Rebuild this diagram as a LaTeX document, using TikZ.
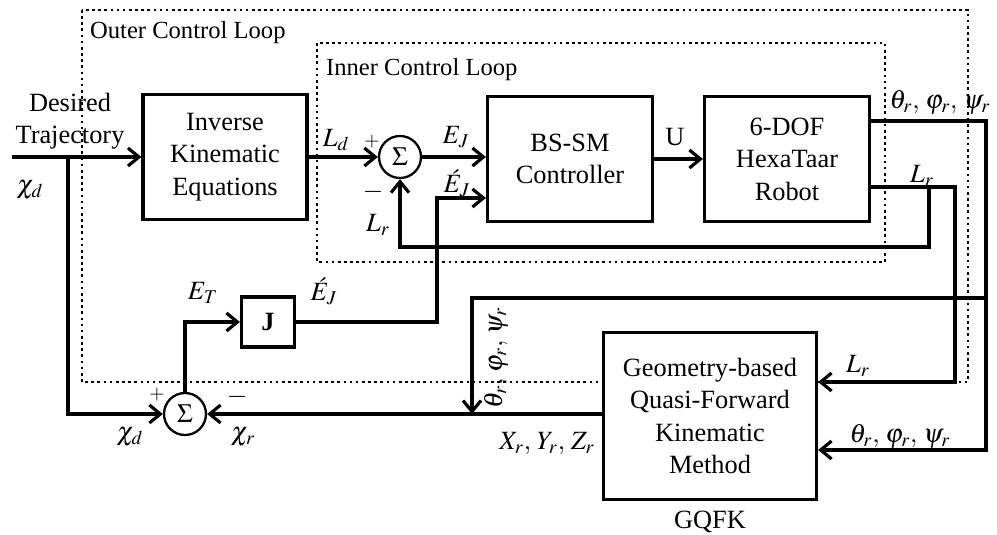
\documentclass[tikz,border=0pt]{standalone}
\usepackage{amsmath}
\usepackage{mathptmx}
\usepackage{fontspec}
\setmainfont{Liberation Serif}
\usetikzlibrary{arrows.meta}

\begin{document}
\begin{tikzpicture}[x=0.2mm,y=-0.2mm,font=\fontsize{15}{18.5}\selectfont,
  box/.style={draw,line width=1.8pt,fill=white,align=center,inner sep=2pt},
  sumnode/.style={draw,circle,line width=1.3pt,fill=white,minimum size=8.4mm,inner sep=0pt},
  loop/.style={draw,dotted,line width=1.5pt},
  wire/.style={line width=2pt},
  arr/.style={wire,-{Straight Barb[length=2.2mm,width=3.6mm,line width=1.8pt]}},
  lbl/.style={inner sep=1pt}]
  \useasboundingbox (0,0) rectangle (997,535);
  % dotted control loops
  \draw[loop] (82,10) rectangle (968,382);
  \draw[loop] (317,43) rectangle (885,262);
  \node[lbl,anchor=west,font=\fontsize{14}{17}\selectfont] (outerlbl) at (88,33) {Outer Control Loop};
  \node[lbl,anchor=west,font=\fontsize{14}{17}\selectfont] (innerlbl) at (324,70) {Inner Control Loop};
  % blocks
  \node[box,minimum width=32.8mm,minimum height=25mm] (ik) at (225,157) {Inverse\\Kinematic\\Equations};
  \node[box,minimum width=33mm,minimum height=25mm] (bssm) at (570,159) {BS-SM\\Controller};
  \node[box,minimum width=33mm,minimum height=25mm] (robot) at (787,159) {6-DOF\\HexaTaar\\Robot};
  \node[box,minimum width=42.6mm,minimum height=33.4mm] (gqfk) at (710,416) {Geometry-based\\Quasi-Forward\\Kinematic\\Method};
  \node[box,minimum width=10.6mm,minimum height=10mm] (jac) at (268,322) {\textbf{J}};
  \node[sumnode] (sum1) at (400,157) {$\Sigma$};
  \node[sumnode] (sum2) at (185,414) {$\Sigma$};
  % helper points
  \coordinate (start) at (12,157);
  \coordinate (split) at (68,157);
  \coordinate (ejturn) at (437,198);
  \coordinate (thout) at (robot.east |- 0,121);
  \coordinate (thcorner) at (986,121);
  \coordinate (thsplit) at (986,298);
  \coordinate (thdrop) at (472,414);
  \coordinate (lrout) at (robot.east |- 0,187);
  \coordinate (lrcorner) at (955,187);
  \coordinate (lrsplit) at (929,187);
  \coordinate (lrback) at (929,247);
  % connectors
  \draw[arr] (start) -- (ik.west);
  \draw[arr] (split) |- (sum2.west);
  \draw[arr] (ik.east) -- (sum1.west);
  \draw[arr] (sum1.east) -- (sum1.east -| bssm.west);
  \draw[arr] (jac.east) -| (ejturn) -- (ejturn -| bssm.west);
  \draw[arr] (bssm.east) -- (robot.west);
  \draw[arr] (thout) -- (thcorner) |- (gqfk.east |- 0,450);
  \draw[arr] (thsplit) -| (thdrop);
  \draw[arr] (lrout) -- (lrcorner) |- (gqfk.east |- 0,382);
  \draw[arr] (lrsplit) -- (lrback) -| (sum1.south);
  \draw[arr] (gqfk.west |- sum2) -- (sum2.east);
  \draw[arr] (sum2.north) |- (jac.west);
  % signal labels
  \node[lbl,align=center] (desired) at (70,121) {Desired\\Trajectory};
  \node[lbl] (xdin) at (30,190) {$\chi_d$};
  \node[lbl] (ld) at (336,140) {$L_d$};
  \node[lbl] (plusa) at (372,142) {$\scriptstyle +$};
  \node[lbl] (minusa) at (373,192) {$-$};
  \node[lbl] (lra) at (378,225) {$L_r$};
  \node[lbl] (eja) at (456,137) {$E_J$};
  \node[lbl] (ejb) at (457,183) {$\acute{E}_J$};
  \node[lbl] (ulbl) at (675,137) {U};
  \node[lbl] (thlbl) at (940,102) {$\theta_r,\,\varphi_r,\,\psi_r$};
  \node[lbl] (lrb) at (922,176) {$L_r$};
  \node[lbl] (lrc) at (858,366) {$L_r$};
  \node[lbl] (thlblb) at (900,436) {$\theta_r,\,\varphi_r,\,\psi_r$};
  \node[lbl,rotate=90] (thlblc) at (496,358) {$\theta_r,\,\varphi_r,\,\psi_r$};
  \node[lbl] (xyz) at (547,444) {$X_r,\,Y_r,\,Z_r$};
  \node[lbl] (et) at (203,293) {$E_T$};
  \node[lbl] (ejc) at (324,291) {$\acute{E}_J$};
  \node[lbl] (plusb) at (157,395) {$\scriptstyle +$};
  \node[lbl] (minusb) at (237,397) {$-$};
  \node[lbl] (xdb) at (130,437) {$\chi_d$};
  \node[lbl] (xrb) at (243,437) {$\chi_r$};
  \node[lbl] (gqfklbl) at (710,522) {GQFK};
\end{tikzpicture}
\end{document}
